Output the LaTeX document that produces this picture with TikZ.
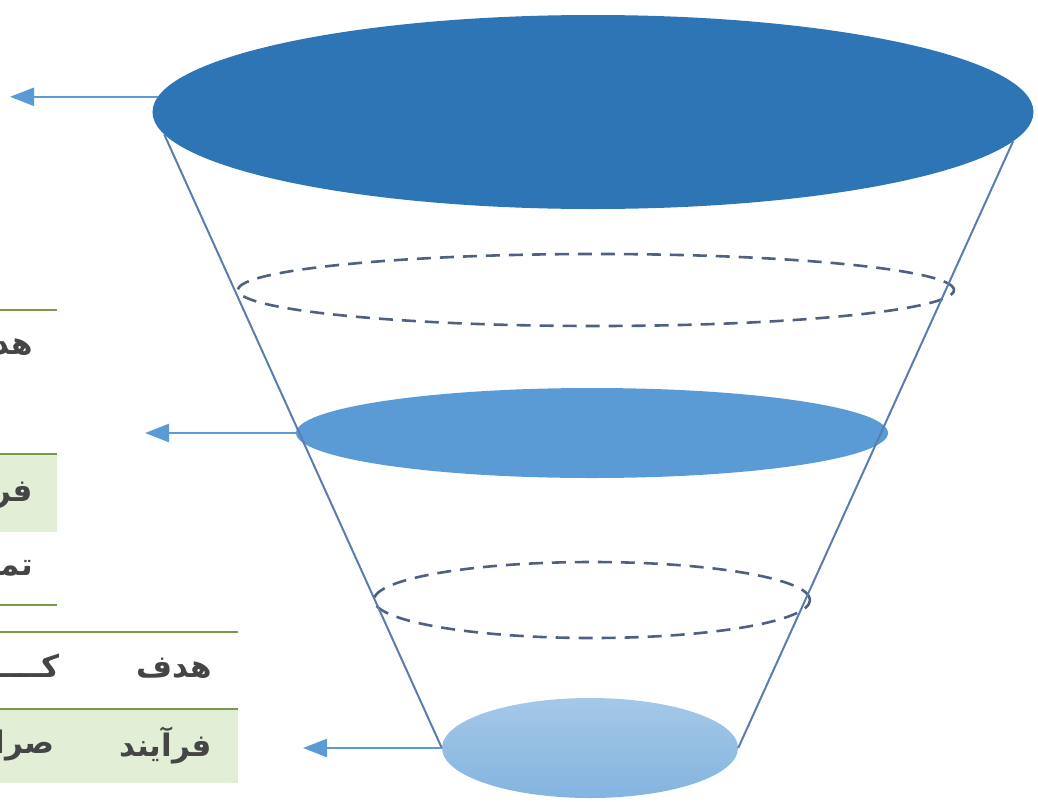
\documentclass[tikz,border=0pt]{standalone}
\usepackage{fontspec}
\newfontfamily\arabicfont[Script=Arabic]{DejaVu Sans}
\TeXXeTstate=1
\usetikzlibrary{arrows.meta,shapes.geometric}
\definecolor{topblue}{HTML}{2E75B6}
\definecolor{midblue}{HTML}{5B9BD5}
\definecolor{sideblue}{HTML}{5A7DAE}
\definecolor{rimgray}{HTML}{4F6080}
\definecolor{rulegreen}{HTML}{7A9A4A}
\definecolor{cellgreen}{HTML}{E3EED7}
\definecolor{cellgray}{HTML}{454545}

\begin{document}
\begin{tikzpicture}[x=1pt, y=-1pt,
	disc/.style={ellipse, inner sep=0pt, draw=none},
	rim/.style={ellipse, inner sep=0pt, draw=rimgray, line width=2.6pt, dash pattern=on 14pt off 9pt},
	side/.style={draw=sideblue, line width=2pt},
	pointer/.style={draw=midblue, line width=2.4pt, -{Triangle[length=24pt,width=18pt]}},
	cell/.style={font=\arabicfont\bfseries\fontsize{31}{36}\selectfont, text=cellgray, anchor=east, inner sep=0pt},
	rulerow/.style={draw=rulegreen, line width=2pt}]
	\useasboundingbox (0,0) rectangle (1038,801);
	% table cut off at the left edge
	\begin{scope}
		\clip (0,0) rectangle (1038,801);
		\fill[cellgreen] (0,454) rectangle (57,532);
		\fill[cellgreen] (0,709) rectangle (238,783);
		\draw[rulerow] (0,310) -- (57,310);
		\draw[rulerow] (0,454) -- (57,454);
		\draw[rulerow] (0,605) -- (57,605);
		\draw[rulerow] (0,632) -- (238,632);
		\draw[rulerow] (0,709) -- (238,709);
		\node[cell] (goalA) at (33,345) {\beginR هدف\endR};
		\node[cell] (procA) at (33,490) {\beginR فرآیند\endR};
		\node[cell] (focusA) at (33,567) {\beginR تمرکز\endR};
		\node[cell] (goalB) at (212,668) {\beginR هدف\endR};
		\node[cell] (gainB) at (60,668) {\beginR کـــــــسب\endR};
		\node[cell] (procB) at (212,745) {\beginR فرآیند\endR};
		\node[cell] (clearB) at (55,745) {\beginR صراحت\endR};
	\end{scope}
	% funnel
	\node[rim, minimum width=716pt, minimum height=72pt] (upper) at (596,290) {};
	\node[rim, minimum width=436pt, minimum height=76pt] (lower) at (592,600) {};
	\node[disc, fill=topblue, minimum width=881pt, minimum height=194pt] (top) at (593,112) {};
	\node[disc, fill=midblue, minimum width=592pt, minimum height=90pt] (mid) at (592,433) {};
	\node[disc, top color=midblue!55, bottom color=midblue!75, minimum width=296pt, minimum height=100pt] (base) at (590,748) {};
	\draw[side] (top.183.5) -- (base.west);
	\draw[side] (top.356.6) -- (base.east);
	% arrows to the left
	\coordinate (tipA) at (10,95);
	\coordinate (tipB) at (145,435);
	\coordinate (tipC) at (303,745);
	\draw[pointer] (top.178) -- (top.178 -| tipA);
	\draw[pointer] (mid.west) -- (mid.west -| tipB);
	\draw[pointer] (base.west) -- (base.west -| tipC);
\end{tikzpicture}
\end{document}
